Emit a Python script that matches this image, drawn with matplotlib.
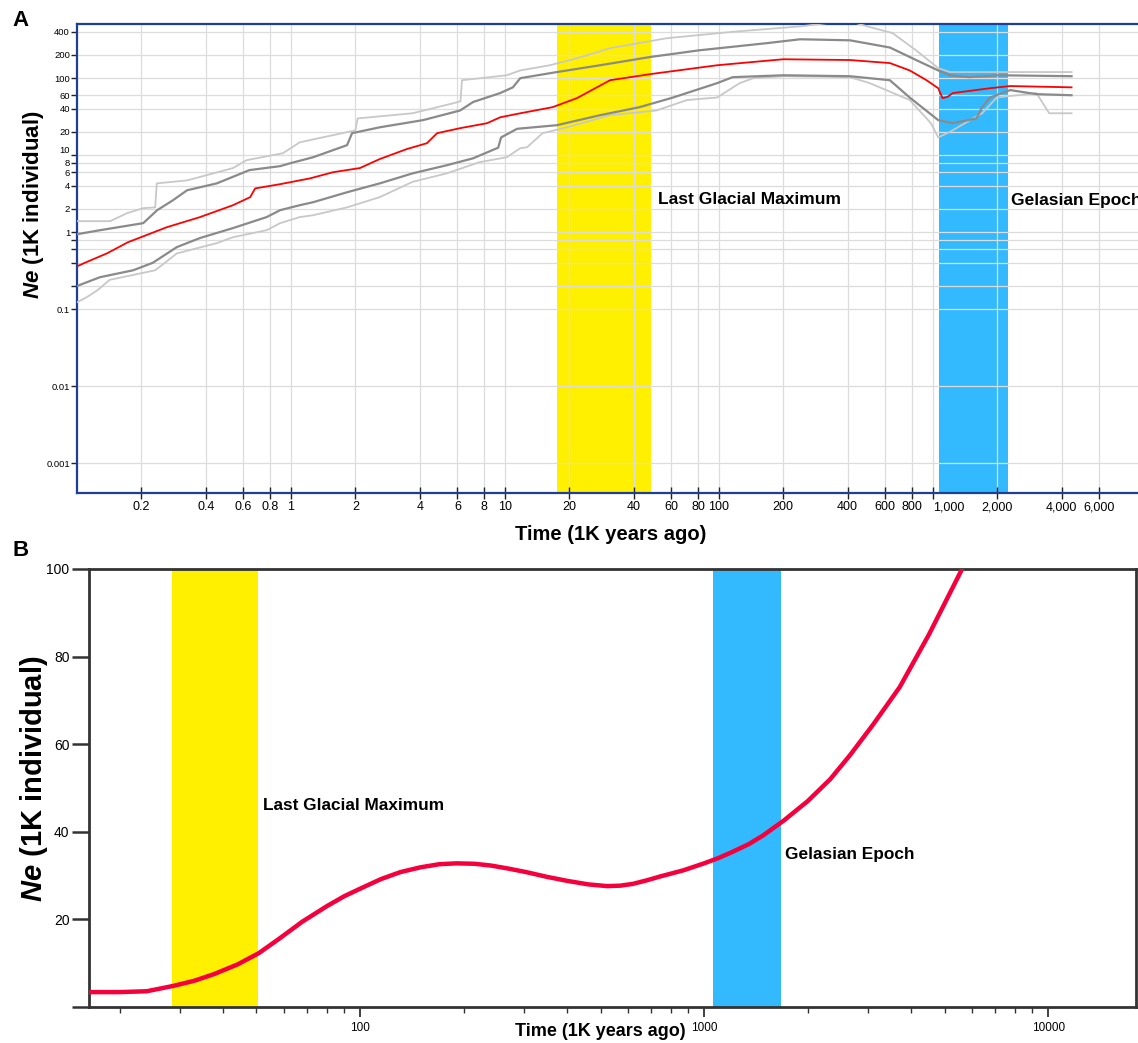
import matplotlib
matplotlib.use("Agg")
import matplotlib.pyplot as plt
import numpy as np

plt.rcParams['font.family'] = ['Liberation Sans', 'DejaVu Sans']
plt.rcParams['mathtext.fontset'] = 'custom'
plt.rcParams['mathtext.bfit'] = 'Liberation Sans:italic:bold'
plt.rcParams['mathtext.it'] = 'Liberation Sans:italic'
plt.rcParams['mathtext.bf'] = 'Liberation Sans:bold'

# ---- Panel A: PSMC-like trajectories (time in 1K years, Ne in 1K) ----
red_t = [0.1, 0.111, 0.138, 0.173, 0.263, 0.376, 0.536, 0.645, 0.68, 0.89, 1.23, 1.57,
         2.10, 2.60, 3.48, 4.32, 4.82, 6.17, 8.25, 9.5, 11.8, 16.7, 21.7, 31, 48, 98,
         140, 200, 410, 630, 780, 935, 1060, 1110, 1170, 1240, 1850, 2300, 4450]
red_ne = [0.36, 0.41, 0.53, 0.74, 1.16, 1.57, 2.24, 2.85, 3.7, 4.2, 5.0, 6.0,
          6.8, 8.9, 12.0, 14.3, 19.3, 22.4, 26, 31, 35, 42, 55, 94, 113, 147,
          161, 176, 172, 157, 126, 94, 74, 55, 57, 64, 74, 79, 76]

dark_hi_t = [0.1, 0.128, 0.204, 0.237, 0.281, 0.327, 0.45, 0.64, 0.89, 1.0, 1.27, 1.83,
             1.93, 2.6, 4.14, 6.17, 7.1, 9.5, 10.9, 11.8, 17.5, 27.8, 47.6, 81, 168,
             240, 410, 630, 835, 1060, 1200, 1480, 2040, 4450]
dark_hi_ne = [0.94, 1.06, 1.31, 1.93, 2.6, 3.5, 4.3, 6.4, 7.2, 7.9, 9.4, 13.5,
              19.3, 23, 28.5, 38, 49, 64, 76, 100, 120, 147, 188, 230, 285,
              320, 310, 250, 172, 126, 109, 103, 109, 106]

light_hi_t = [0.1, 0.143, 0.171, 0.204, 0.232, 0.236, 0.327, 0.536, 0.62, 0.917, 1.1,
              2.0, 2.05, 3.7, 5.7, 6.2, 6.3, 10.2, 11.8, 16.2, 21.7, 31, 57, 116,
              240, 400, 508, 648, 835, 1060, 1200, 4450]
light_hi_ne = [1.39, 1.39, 1.76, 2.05, 2.1, 4.3, 4.7, 6.8, 8.6, 10.6, 14.7,
               21, 30, 35, 47, 50, 94, 109, 126, 147, 181, 245, 330, 400,
               470, 560, 460, 385, 230, 135, 120, 120]

dark_lo_t = [0.1, 0.128, 0.183, 0.226, 0.293, 0.376, 0.536, 0.77, 0.89, 1.1, 1.27,
             1.83, 2.6, 3.7, 5.35, 7.1, 9.3, 9.6, 11.4, 17.5, 27.8, 42.6, 61, 98,
             116, 200, 410, 630, 780, 1060, 1240, 1600, 1700, 1850, 2300, 3050, 4450]
dark_lo_ne = [0.2, 0.26, 0.32, 0.40, 0.64, 0.84, 1.13, 1.57, 1.93, 2.24, 2.45,
              3.3, 4.3, 5.8, 7.4, 9.1, 12.5, 17, 22, 24.5, 33, 42, 56, 86,
              103, 109, 106, 94, 56, 28.5, 26, 30, 42, 56, 70, 62, 60]

light_lo_t = [0.1, 0.111, 0.125, 0.142, 0.232, 0.293, 0.45, 0.536, 0.77, 0.89, 1.1,
              1.27, 1.83, 2.6, 3.7, 5.35, 7.6, 10.2, 11.8, 12.7, 15, 19.5, 31, 51,
              71, 98, 125, 145, 200, 410, 508, 780, 980, 1060, 1200, 1700, 1990,
              3050, 3500, 4450]
light_lo_ne = [0.123, 0.143, 0.177, 0.24, 0.32, 0.53, 0.72, 0.86, 1.06, 1.31, 1.57,
               1.66, 2.1, 2.85, 4.5, 5.8, 8.1, 9.4, 12.3, 12.7, 19.3, 23, 33, 38,
               52, 56, 86, 100, 106, 103, 86, 52, 26, 17, 20, 35, 56,
               64, 35, 35]

a_xticks = [0.2, 0.4, 0.6, 0.8, 1, 2, 4, 6, 8, 10, 20, 40, 60, 80, 100, 200, 400,
            600, 800, 1000, 2000, 4000, 6000]
a_xlabels = ['0.2', '0.4', '0.6', '0.8', '1', '2', '4', '6', '8', '10', '20', '40',
             '60', '80', '100', '200', '400', '600', '800', '1,000', '2,000',
             '4,000', '6,000']
a_yticks = [400, 200, 100, 60, 40, 20, 10, 8, 6, 4, 2, 1, 0.8, 0.6, 0.4, 0.2,
            0.1, 0.01, 0.001]
a_ylabels = ['400', '200', '100', '60', '40', '20', '10', '8', '6', '4', '2', '1',
             '', '', '', '', '0.1', '0.01', '0.001']

lgm_a = (17.5, 48)
gel_a = (1067, 2240)

# ---- Panel B: smoothed Ne trajectory ----
b_t = [16.3, 20, 24, 28.6, 33, 37.6, 44, 50.8, 58, 68, 80, 90, 100, 115, 131, 150,
       170, 191, 215, 240, 270, 304, 350, 400, 460, 522, 570, 620, 680, 745, 870,
       1000, 1100, 1200, 1350, 1486, 1700, 2000, 2325, 2655, 3100, 3700, 4500,
       5620, 6500]
b_ne = [3.4, 3.4, 3.6, 4.8, 6.0, 7.5, 9.7, 12.3, 15.5, 19.5, 23, 25.3, 27, 29.2,
        30.8, 31.9, 32.6, 32.8, 32.7, 32.3, 31.6, 30.8, 29.7, 28.8, 28.0, 27.6,
        27.7, 28.1, 28.9, 29.8, 31.2, 32.8, 34.0, 35.3, 37.2, 39.2, 42.5, 47,
        52, 57.5, 64.5, 73, 85, 100, 110]
lgm_b = (28.4, 50.6)
gel_b = (1062, 1675)

yellow = '#fff000'
blue = '#33b9fe'
W, H = 1138, 1043

fig = plt.figure(figsize=(W / 100, H / 100), dpi=100)

# ================= Panel A =================
ax = fig.add_axes([77 / W, 1 - 493 / H, 1 - 77 / W, (493 - 24) / H])
ax.set_xscale('log')
ax.set_yscale('log')
ax.set_xlim(0.1, 9100)
ax.set_ylim(0.00041, 505)

ax.axvspan(*lgm_a, color=yellow, lw=0, zorder=1)
ax.axvspan(*gel_a, color=blue, lw=0, zorder=1)

ax.plot(light_hi_t, light_hi_ne, color='#c8c8c8', lw=1.3, zorder=3)
ax.plot(light_lo_t, light_lo_ne, color='#c8c8c8', lw=1.3, zorder=3)
ax.plot(dark_hi_t, dark_hi_ne, color='#8a8a8a', lw=1.6, zorder=4)
ax.plot(dark_lo_t, dark_lo_ne, color='#8a8a8a', lw=1.6, zorder=4)
ax.plot(red_t, red_ne, color='#ff0000', lw=1.3, zorder=5)

ax.xaxis.set_major_locator(matplotlib.ticker.FixedLocator(a_xticks))
ax.xaxis.set_minor_locator(matplotlib.ticker.NullLocator())
ax.set_xticklabels(a_xlabels, fontsize=9)
for lbl, val in zip(ax.get_xticklabels(), a_xticks):
    if val == 1000:
        lbl.set_horizontalalignment('left')
ax.yaxis.set_major_locator(matplotlib.ticker.FixedLocator(a_yticks))
ax.yaxis.set_minor_locator(matplotlib.ticker.NullLocator())
ax.set_yticklabels(a_ylabels, fontsize=6.8)
for lbl, val in zip(ax.get_yticklabels(), a_yticks):
    if val == 10:
        lbl.set_verticalalignment('bottom')
    elif val == 8:
        lbl.set_verticalalignment('center_baseline')
ax.tick_params(axis='x', direction='inout', length=8, width=1, pad=2, color='#222222')
ax.tick_params(axis='y', direction='out', length=4, width=1, pad=1, color='#222222')
ax.grid(True, color='#dcdcdc', lw=0.9, zorder=1.5)

for s in ['top', 'left', 'bottom']:
    ax.spines[s].set_color('#1d3f95')
    ax.spines[s].set_linewidth(1.6)
ax.spines['right'].set_visible(False)

fig.text(658 / W, 1 - 200 / H, 'Last Glacial Maximum', fontsize=12.5, fontweight='bold',
         va='center', ha='left')
fig.text(1011 / W, 1 - 200 / H, 'Gelasian Epoch', fontsize=12.5, fontweight='bold',
         va='center', ha='left')
fig.text(611 / W, 1 - 535 / H, 'Time (1K years ago)', fontsize=14.5, fontweight='bold',
         va='center', ha='center')
fig.text(34 / W, 1 - 205 / H, r'$\mathbfit{Ne}$ (1K individual)', fontsize=16,
         fontweight='bold', rotation=90, va='center', ha='center')
fig.text(12 / W, 1 - 20 / H, 'A', fontsize=16, fontweight='bold', va='center', ha='left')

# ================= Panel B =================
bx = fig.add_axes([89 / W, 1 - 1007 / H, (1136 - 89) / W, (1007 - 569) / H])
bx.set_xscale('log')
bx.set_xlim(16.3, 18000)
bx.set_ylim(0, 100)
bx.axvspan(*lgm_b, color=yellow, lw=0, zorder=1)
bx.axvspan(*gel_b, color=blue, lw=0, zorder=1)
bx.plot(b_t, b_ne, color='#f5003c', lw=3.2, solid_capstyle='round',
        solid_joinstyle='round', zorder=3)

bx.set_yticks([0, 20, 40, 60, 80, 100])
bx.set_yticklabels(['', '20', '40', '60', '80', '100'], fontsize=10)
bx.xaxis.set_major_locator(matplotlib.ticker.FixedLocator([100, 1000, 10000]))
bx.set_xticklabels(['100', '1000', '10000'], fontsize=8.5)
bx.xaxis.set_minor_locator(matplotlib.ticker.LogLocator(base=10, subs=np.arange(2, 10)))
bx.xaxis.set_minor_formatter(matplotlib.ticker.NullFormatter())
bx.tick_params(axis='y', direction='out', length=12, width=1.8, color='#333333', pad=2)
bx.tick_params(axis='x', which='major', direction='out', length=7, width=1.3,
               color='#333333', pad=4)
bx.tick_params(axis='x', which='minor', direction='out', length=4, width=1,
               color='#333333')
for s in bx.spines.values():
    s.set_color('#333333')
    s.set_linewidth(2)

fig.text(263 / W, 1 - 805 / H, 'Last Glacial Maximum', fontsize=12.4, fontweight='bold',
         va='center', ha='left')
fig.text(785 / W, 1 - 855 / H, 'Gelasian Epoch', fontsize=12.4, fontweight='bold',
         va='center', ha='left')
fig.text(600 / W, 1 - 1031 / H, 'Time (1K years ago)', fontsize=13, fontweight='bold',
         va='center', ha='center')
fig.text(34 / W, 1 - 779 / H, r'$\mathbfit{Ne}$ (1K individual)', fontsize=21,
         fontweight='bold', rotation=90, va='center', ha='center')
fig.text(12 / W, 1 - 551 / H, 'B', fontsize=16, fontweight='bold', va='center', ha='left')

fig.savefig('out.png', dpi=100)
